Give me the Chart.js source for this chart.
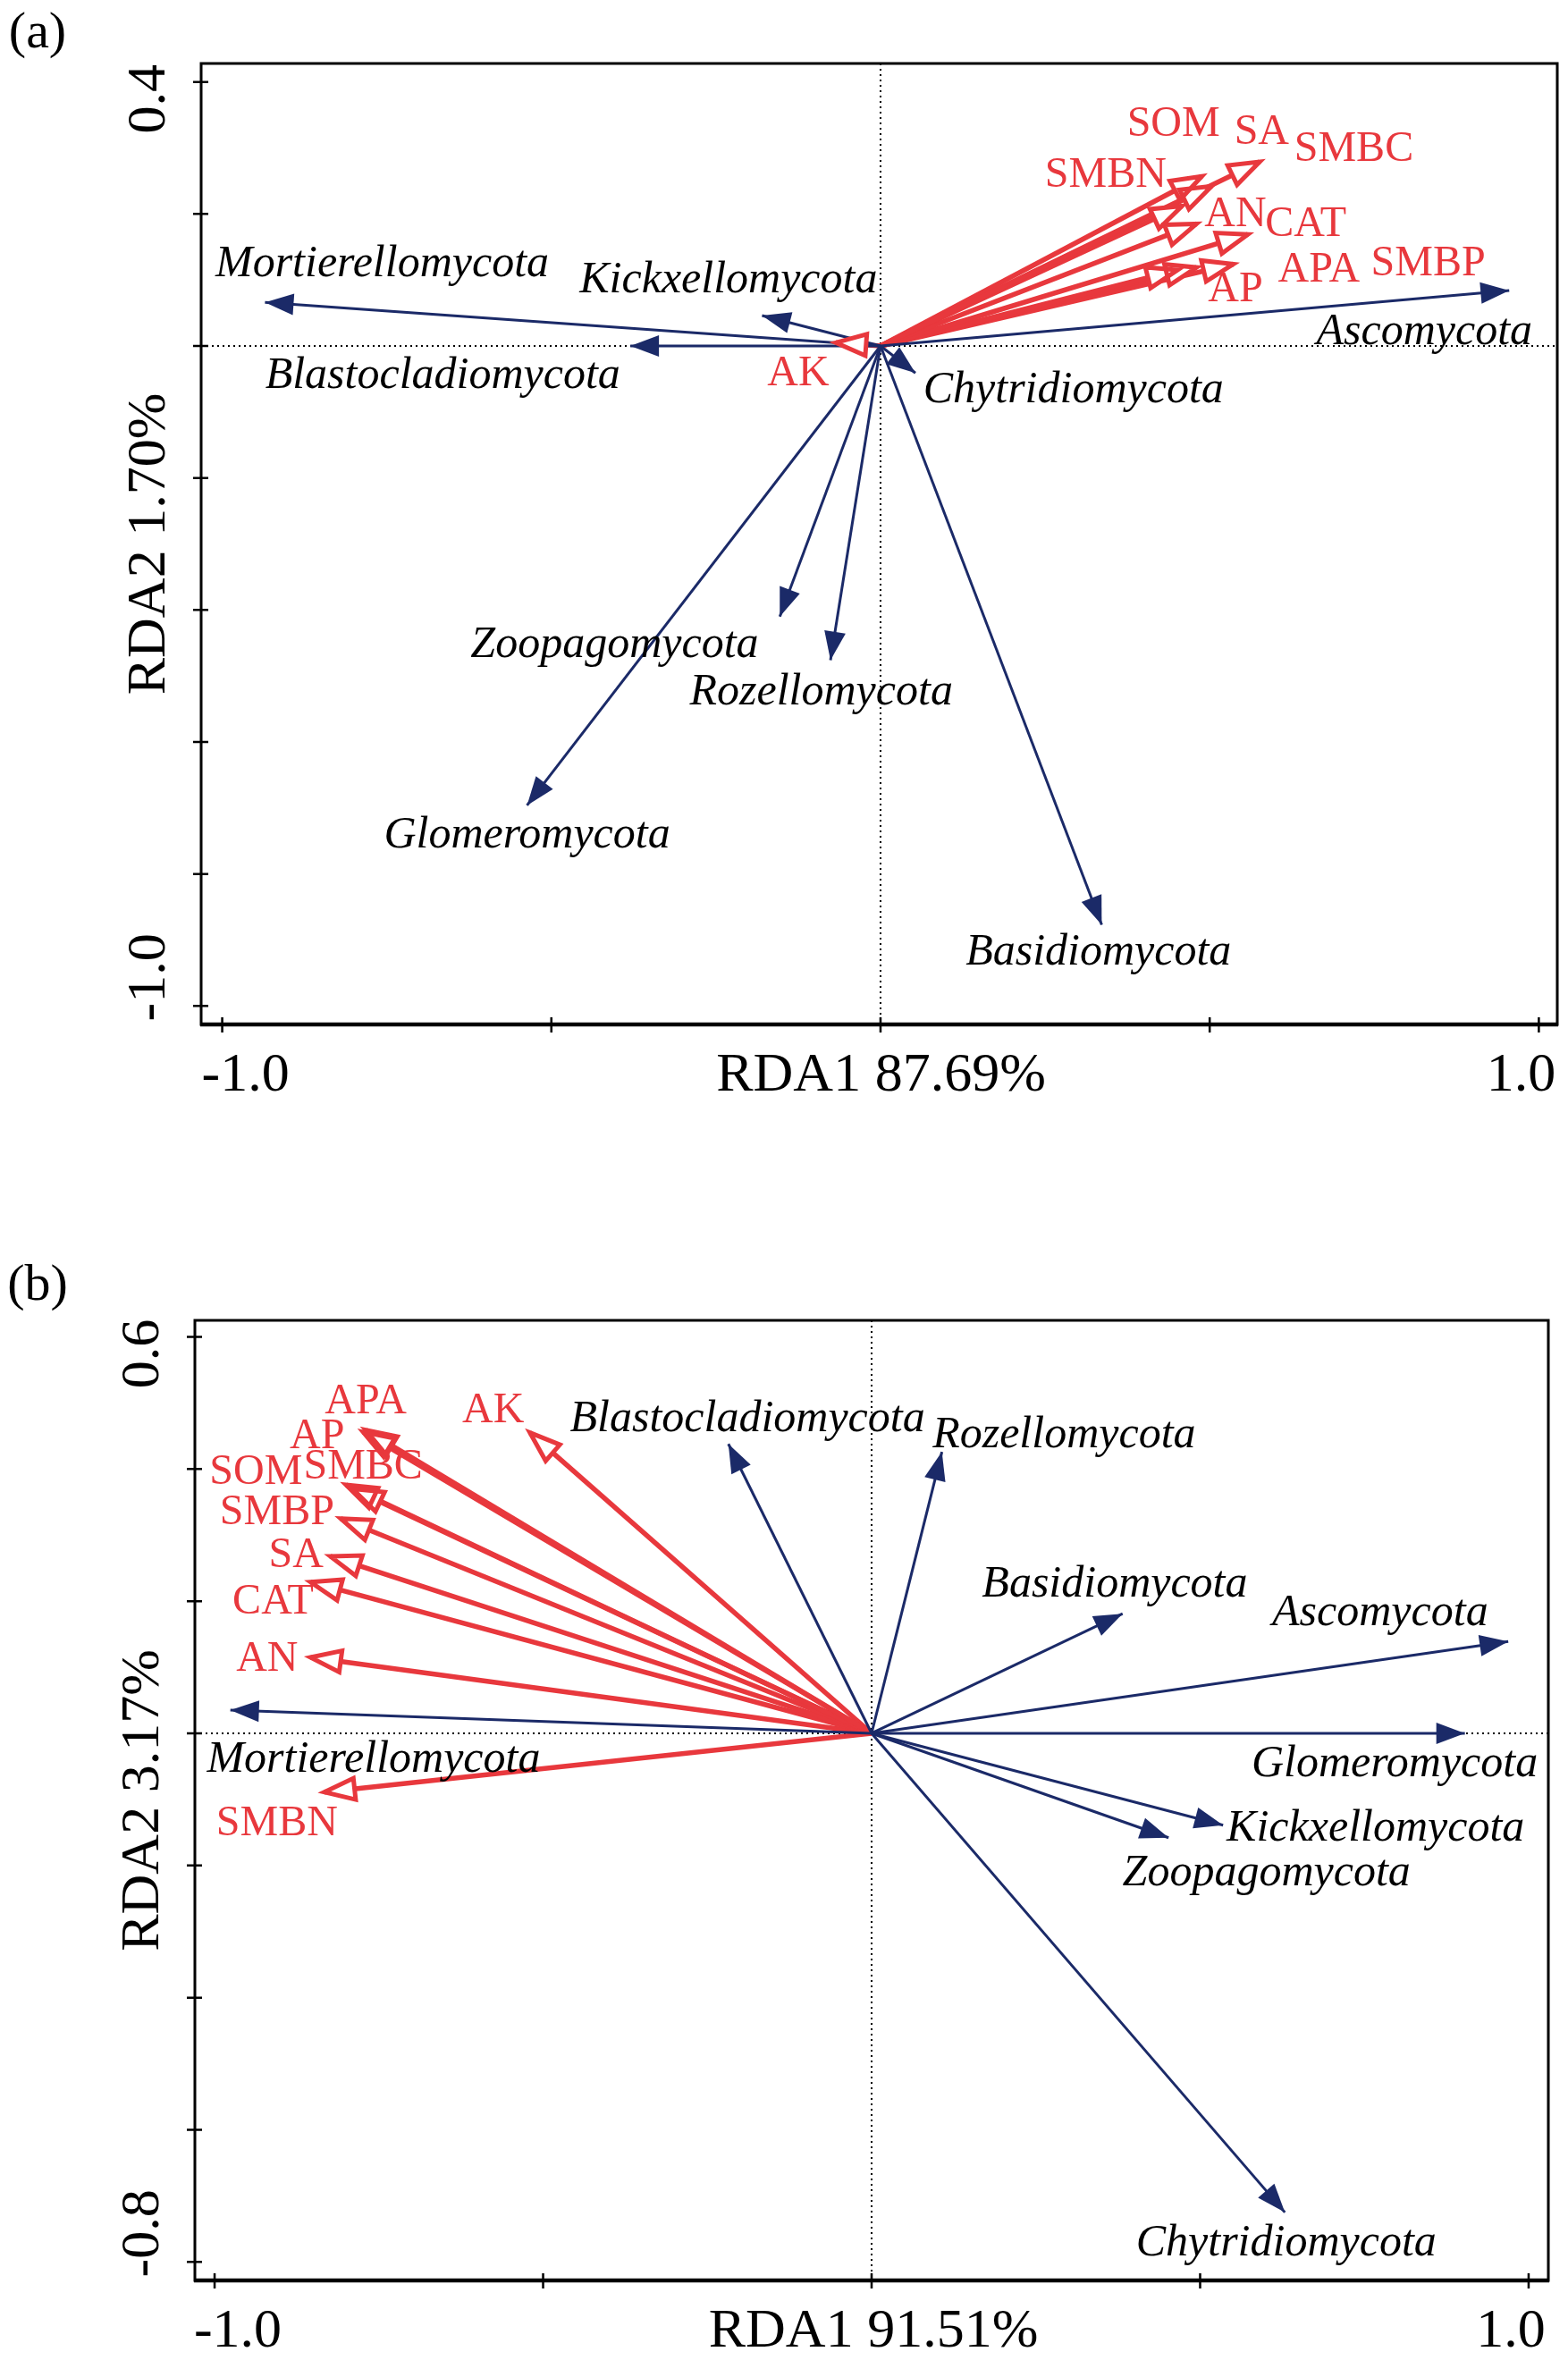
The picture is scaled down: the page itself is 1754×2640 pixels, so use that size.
<!DOCTYPE html>
<html>
<head>
<meta charset="utf-8">
<script src="https://cdn.jsdelivr.net/npm/chart.js@4.4.0/dist/chart.umd.min.js"></script>
<style>
  html, body { margin: 0; padding: 0; background: #fff; }
  #wrap { position: relative; width: 1754px; height: 2640px; }
  canvas { position: absolute; left: 0; }
  #rdaA { top: 0; }
  #rdaB { top: 1320px; }
</style>
</head>
<body>
<div id="wrap">
  <canvas id="rdaA" width="1754" height="1320"></canvas>
  <canvas id="rdaB" width="1754" height="1320"></canvas>
</div>
<script>
// ---- panel (a) ----
const taxaA   = ["Mortierellomycota", "Kickxellomycota", "Blastocladiomycota", "Chytridiomycota", "Zoopagomycota", "Rozellomycota", "Glomeromycota", "Basidiomycota", "Ascomycota"];
const taxaA_x = [-0.935, -0.180, -0.380, 0.053, -0.153, -0.076, -0.537, 0.336, 0.955];
const taxaA_y = [0.066, 0.046, 0.000, -0.041, -0.410, -0.476, -0.696, -0.877, 0.084];
const envA    = ["SA", "SOM", "SMBC", "SMBN", "AN", "CAT", "SMBP", "AP", "APA", "AK"];
const envA_x  = [0.576, 0.488, 0.503, 0.458, 0.480, 0.558, 0.451, 0.480, 0.536, -0.068];
const envA_y  = [0.279, 0.257, 0.242, 0.212, 0.185, 0.169, 0.115, 0.119, 0.124, 0.005];
const xTicks  = [-1.0, -0.5, 0, 0.5, 1.0];
const xTickLabels = ["-1.0", "", "", "", "1.0"];
const yTicksA = [0.4, 0.2, 0, -0.2, -0.4, -0.6, -0.8, -1.0];
const yTickLabelsA = ["0.4", "", "", "", "", "", "", "-1.0"];

// ---- panel (b) ----
const taxaB   = ["Mortierellomycota", "Blastocladiomycota", "Rozellomycota", "Basidiomycota", "Ascomycota", "Glomeromycota", "Kickxellomycota", "Zoopagomycota", "Chytridiomycota"];
const taxaB_x = [-0.976, -0.218, 0.107, 0.382, 0.969, 0.903, 0.535, 0.452, 0.629];
const taxaB_y = [0.035, 0.438, 0.426, 0.181, 0.139, 0.000, -0.139, -0.158, -0.725];
const envB    = ["APA", "AP", "AK", "SOM", "SMBC", "SMBP", "SA", "CAT", "AN", "SMBN"];
const envB_x  = [-0.770, -0.774, -0.520, -0.800, -0.790, -0.808, -0.824, -0.854, -0.854, -0.833];
const envB_y  = [0.459, 0.456, 0.455, 0.376, 0.370, 0.325, 0.268, 0.229, 0.115, -0.089];
const yTicksB = [0.6, 0.4, 0.2, 0, -0.2, -0.4, -0.6, -0.8];
const yTickLabelsB = ["0.6", "", "", "", "", "", "", "-0.8"];

// label anchors (data units), kept apart from the values above
const taxaLabelA = [[-0.757, 0.124], [-0.231, 0.099], [-0.665, -0.046], [0.293, -0.068], [-0.404, -0.453], [-0.090, -0.525], [-0.537, -0.742], [0.331, -0.920], [0.826, 0.020]];
const envLabelA  = [[0.579, 0.323], [0.445, 0.335], [0.719, 0.297], [0.342, 0.258], [0.539, 0.198], [0.646, 0.183], [0.832, 0.124], [0.539, 0.085], [0.666, 0.115], [-0.125, -0.042]];
const taxaLabelB = [[-0.758, -0.041], [-0.189, 0.475], [0.293, 0.451], [0.370, 0.225], [0.774, 0.181], [0.796, -0.047], [0.767, -0.145], [0.601, -0.212], [0.631, -0.773]];
const envLabelB  = [[-0.770, 0.501], [-0.844, 0.449], [-0.576, 0.488], [-0.937, 0.395], [-0.774, 0.402], [-0.905, 0.333], [-0.876, 0.268], [-0.911, 0.198], [-0.920, 0.112], [-0.905, -0.137]];

const RED = "#e8383d";
const BLUE = "#1b2a68";
const SERIF = '"Liberation Serif", "Times New Roman", serif';

function arrows(names, xs, ys, kind) {
  return names.map((n, i) => ({
    label: n,
    kind: kind,
    data: [{ x: 0, y: 0 }, { x: xs[i], y: ys[i] }],
    showLine: true,
    pointRadius: 0,
    borderColor: kind === "env" ? RED : BLUE,
    borderWidth: kind === "env" ? 5.5 : 3
  }));
}

// zero lines, arrow heads, labels, frame and axes
const rdaPlugin = {
  id: "rda",
  beforeDatasetsDraw(chart, args, o) {
    const ctx = chart.ctx, a = chart.chartArea;
    const x0 = chart.scales.x.getPixelForValue(0);
    const y0 = chart.scales.y.getPixelForValue(0);
    ctx.save();
    ctx.strokeStyle = "#000";
    ctx.lineWidth = 2;
    ctx.setLineDash([2, 4]);
    ctx.beginPath();
    ctx.moveTo(a.left, y0); ctx.lineTo(a.right, y0);
    ctx.moveTo(x0, a.top); ctx.lineTo(x0, a.bottom);
    ctx.stroke();
    ctx.restore();
  },
  afterDatasetsDraw(chart, args, o) {
    const ctx = chart.ctx, a = chart.chartArea;
    const sx = chart.scales.x, sy = chart.scales.y;
    const heads = chart.data.datasets.map((ds, i) => {
      const m = chart.getDatasetMeta(i).data;
      const ang = Math.atan2(m[1].y - m[0].y, m[1].x - m[0].x);
      return { kind: ds.kind, x: m[1].x, y: m[1].y, ang: ang };
    });
    function tri(h, len, half) {
      const c = Math.cos(h.ang), s = Math.sin(h.ang);
      const bx = h.x - c * len, by = h.y - s * len;
      ctx.beginPath();
      ctx.moveTo(h.x, h.y);
      ctx.lineTo(bx - s * half, by + c * half);
      ctx.lineTo(bx + s * half, by - c * half);
      ctx.closePath();
    }
    ctx.save();
    heads.filter(h => h.kind === "taxa").forEach(h => {
      tri(h, 32, 12);
      ctx.fillStyle = BLUE;
      ctx.fill();
    });
    heads.filter(h => h.kind === "env").forEach(h => {
      tri(h, 34, 12);
      ctx.fillStyle = "#fff";
      ctx.fill();
    });
    heads.filter(h => h.kind === "env").forEach(h => {
      tri(h, 34, 12);
      ctx.strokeStyle = RED;
      ctx.lineWidth = 5;
      ctx.lineJoin = "miter";
      ctx.stroke();
    });

    // labels
    ctx.textAlign = "center";
    ctx.textBaseline = "middle";
    ctx.fillStyle = "#000";
    ctx.font = "italic 50px " + SERIF;
    o.taxa.forEach((t, i) => {
      ctx.fillText(t, sx.getPixelForValue(o.taxaPos[i][0]), sy.getPixelForValue(o.taxaPos[i][1]));
    });
    ctx.fillStyle = RED;
    ctx.font = "48px " + SERIF;
    o.env.forEach((t, i) => {
      ctx.fillText(t, sx.getPixelForValue(o.envPos[i][0]), sy.getPixelForValue(o.envPos[i][1]));
    });

    // frame
    ctx.strokeStyle = "#000";
    ctx.lineWidth = 3;
    ctx.strokeRect(a.left, a.top, a.right - a.left, a.bottom - a.top);
    ctx.lineWidth = 4.5;
    ctx.beginPath();
    ctx.moveTo(a.left - 1, a.bottom); ctx.lineTo(a.right + 1, a.bottom);
    ctx.stroke();

    // ticks crossing the frame
    ctx.lineWidth = 2.5;
    ctx.beginPath();
    o.xTicks.forEach(v => {
      const p = sx.getPixelForValue(v);
      ctx.moveTo(p, a.bottom - 8); ctx.lineTo(p, a.bottom + 9);
    });
    o.yTicks.forEach(v => {
      const p = sy.getPixelForValue(v);
      ctx.moveTo(a.left - 9, p); ctx.lineTo(a.left + 8, p);
    });
    ctx.stroke();

    // tick labels and titles
    ctx.fillStyle = "#000";
    ctx.font = "62px " + SERIF;
    const ly = a.bottom + 58;
    o.xTicks.forEach((v, i) => {
      if (!o.xLabels[i]) return;
      const shift = i === 0 ? 26 : -20;
      ctx.fillText(o.xLabels[i], sx.getPixelForValue(v) + shift, ly);
    });
    ctx.fillText(o.xTitle, (a.left + a.right) / 2 + 2, ly);
    const lx = a.left - 57;
    const rot = (t, cx, cy) => {
      ctx.save();
      ctx.translate(cx, cy);
      ctx.rotate(-Math.PI / 2);
      ctx.fillText(t, 0, 0);
      ctx.restore();
    };
    o.yTicks.forEach((v, i) => {
      if (!o.yLabels[i]) return;
      const shift = i === 0 ? 19 : -32;
      rot(o.yLabels[i], lx, sy.getPixelForValue(v) + shift);
    });
    rot(o.yTitle, lx, (a.top + a.bottom) / 2);
    ctx.font = "58px " + SERIF;
    ctx.fillText(o.tag, 42, o.tagY);
    ctx.restore();
  }
};

function makeChart(id, cfg) {
  return new Chart(document.getElementById(id), {
    type: "scatter",
    data: { datasets: arrows(cfg.taxa, cfg.tx, cfg.ty, "taxa").concat(arrows(cfg.env, cfg.ex, cfg.ey, "env")) },
    plugins: [rdaPlugin],
    options: {
      responsive: false,
      animation: false,
      devicePixelRatio: 1,
      layout: { padding: cfg.pad },
      plugins: {
        legend: { display: false },
        tooltip: { enabled: false },
        rda: cfg.draw
      },
      scales: {
        x: { type: "linear", min: cfg.xr[0], max: cfg.xr[1], display: false },
        y: { type: "linear", min: cfg.yr[0], max: cfg.yr[1], display: false }
      }
    }
  });
}

makeChart("rdaA", {
  taxa: taxaA, tx: taxaA_x, ty: taxaA_y,
  env: envA, ex: envA_x, ey: envA_y,
  xr: [-1.032, 1.028], yr: [-1.028, 0.428],
  pad: { left: 225, right: 12, top: 71, bottom: 174 },
  draw: {
    taxa: taxaA, taxaPos: taxaLabelA, env: envA, envPos: envLabelA,
    xTicks: xTicks, xLabels: xTickLabels, yTicks: yTicksA, yLabels: yTickLabelsA,
    xTitle: "RDA1 87.69%", yTitle: "RDA2 1.70%", tag: "(a)", tagY: 38
  }
});

makeChart("rdaB", {
  taxa: taxaB, tx: taxaB_x, ty: taxaB_y,
  env: envB, ex: envB_x, ey: envB_y,
  xr: [-1.030, 1.030], yr: [-0.828, 0.625],
  pad: { left: 218, right: 22, top: 157, bottom: 89 },
  draw: {
    taxa: taxaB, taxaPos: taxaLabelB, env: envB, envPos: envLabelB,
    xTicks: xTicks, xLabels: xTickLabels, yTicks: yTicksB, yLabels: yTickLabelsB,
    xTitle: "RDA1 91.51%", yTitle: "RDA2 3.17%", tag: "(b)", tagY: 119
  }
});
</script>
</body>
</html>
